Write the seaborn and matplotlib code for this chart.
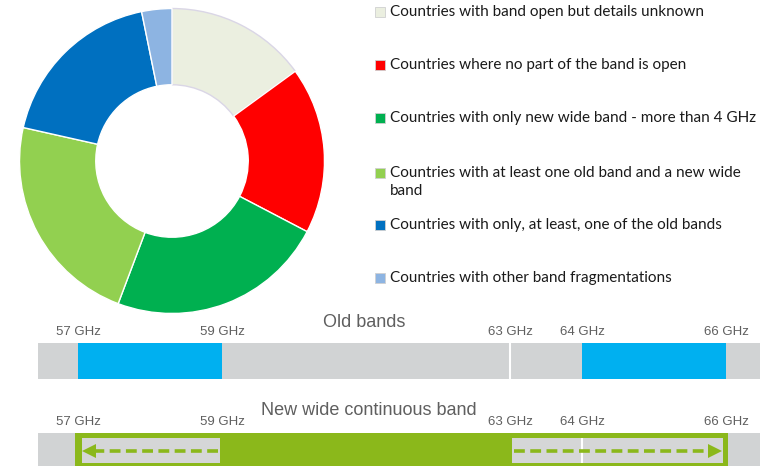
import matplotlib
matplotlib.use("Agg")
import matplotlib.pyplot as plt
from matplotlib.patches import Rectangle
import seaborn as sns

# ---------------- data ----------------
categories = [
    "Countries with band open but details unknown",
    "Countries where no part of the band is open",
    "Countries with only new wide band - more than 4 GHz",
    "Countries with at least one old band and a new wide\nband",
    "Countries with only, at least, one of the old bands",
    "Countries with other band fragmentations",
]
shares = [15.0, 17.7, 23.1, 22.8, 18.3, 3.2]
slice_colors = ["#EBEFE0", "#FF0000", "#00B050", "#92D050", "#0070C0", "#8DB4E2"]

tick_ghz = [57, 59, 63, 64, 66]
tick_labels = ["57 GHz", "59 GHz", "63 GHz", "64 GHz", "66 GHz"]
old_band_starts = [57, 64]
old_band_ends = [59, 66]
new_band_start = 57
new_band_end = 66
spectrum_start = 56.44
spectrum_end = 66.6

# ---------------- style ----------------
sns.set_theme(style="white")
plt.rcParams["font.family"] = ["Lato", "DejaVu Sans"]

W, H = 760, 466
fig = plt.figure(figsize=(W / 100, H / 100), dpi=100)

# ---------------- donut ----------------
cx, cy, r = 172, 161, 154
ax_pie = fig.add_axes([(cx - r) / W, (H - (cy + r)) / H, 2 * r / W, 2 * r / H])
wedges, _ = ax_pie.pie(
    shares, colors=slice_colors, startangle=90, counterclock=False,
    wedgeprops=dict(width=0.5, edgecolor="white", linewidth=1.0),
)
wedges[0].set_edgecolor("#DAD6E6")
ax_pie.set_xlim(-1.01, 1.01)
ax_pie.set_ylim(-1.01, 1.01)
ax_pie.axis("off")

# ---------------- legend (manual, right column) ----------------
legend_y = [12, 65, 118, 173, 225, 278]
for lab, col, yy in zip(categories, slice_colors, legend_y):
    fig.patches.append(Rectangle((375 / W, (H - yy - 5) / H), 10 / W, 10 / H,
                                 transform=fig.transFigure, facecolor=col,
                                 edgecolor="#D0D0D0", linewidth=0.6))
    if "\n" in lab:
        fig.text(390 / W, (H - yy + 7) / H, lab, ha="left", va="top",
                 fontsize=11, color="#1A1A1A", linespacing=1.38)
    else:
        fig.text(390 / W, (H - yy) / H, lab, ha="left", va="center",
                 fontsize=11, color="#1A1A1A")

# ---------------- band diagrams ----------------
px0 = 78           # pixel x of 57 GHz
ppg = 72.0         # pixels per GHz
ax_b = fig.add_axes([0, 0, 1, 166 / H])
ax_b.set_xlim(57 - px0 / ppg, 57 + (W - px0) / ppg)
ax_b.set_ylim(466, 300)
ax_b.axis("off")

gray = "#D1D3D4"
blue = "#00B0F0"
green = "#8BB81B"
txt_gray = "#5F5F5F"

# Old bands row
ax_b.barh(361, spectrum_end - spectrum_start, left=spectrum_start, height=36,
          color=gray, linewidth=0)
ax_b.vlines(63, 343, 379, color="white", linewidth=1.5)
ax_b.barh([361] * len(old_band_starts),
          [e - s for s, e in zip(old_band_starts, old_band_ends)],
          left=old_band_starts, height=36, color=blue, linewidth=0)
for g, lab in zip(tick_ghz, tick_labels):
    ax_b.text(g, 332, lab, ha="center", va="center", fontsize=9.5,
              color=txt_gray, family="Liberation Sans")
ax_b.text(57 + (364 - px0) / ppg, 323, "Old bands", ha="center", va="center",
          fontsize=13, color=txt_gray, family="Liberation Sans")

# New wide band row
ax_b.barh(451.5, spectrum_end - spectrum_start, left=spectrum_start, height=37,
          color=gray, linewidth=0)
ax_b.barh(451.5, (new_band_end - new_band_start) + 0.07, left=new_band_start - 0.04,
          height=37, color=green, linewidth=0)
inner_l = [new_band_start + 0.06, 63 + 0.03]
inner_r = [59 - 0.03, new_band_end - 0.04]
ax_b.barh([450.5, 450.5], [b - a for a, b in zip(inner_l, inner_r)], left=inner_l,
          height=25, color="#D5D6D7", linewidth=0)
ax_b.vlines(64, 438, 463, color="white", linewidth=1.5)
# dashed arrows
ax_b.plot([59 - 0.05, new_band_start + 0.2], [451, 451], color=green,
          linestyle=(0, (3, 1.5)), linewidth=2.6)
ax_b.plot([new_band_start + 0.15], [451], marker="<", color=green, markersize=10,
          markeredgewidth=0)
ax_b.plot([63 + 0.05, new_band_end - 0.2], [451, 451], color=green,
          linestyle=(0, (3, 1.5)), linewidth=2.6)
ax_b.plot([new_band_end - 0.15], [451], marker=">", color=green, markersize=10,
          markeredgewidth=0)
for g, lab in zip(tick_ghz, tick_labels):
    ax_b.text(g, 422, lab, ha="center", va="center", fontsize=9.5,
              color=txt_gray, family="Liberation Sans")
ax_b.text(57 + (369 - px0) / ppg, 411, "New wide continuous band", ha="center",
          va="center", fontsize=13, color=txt_gray, family="Liberation Sans")

fig.savefig("out.png", dpi=100)
